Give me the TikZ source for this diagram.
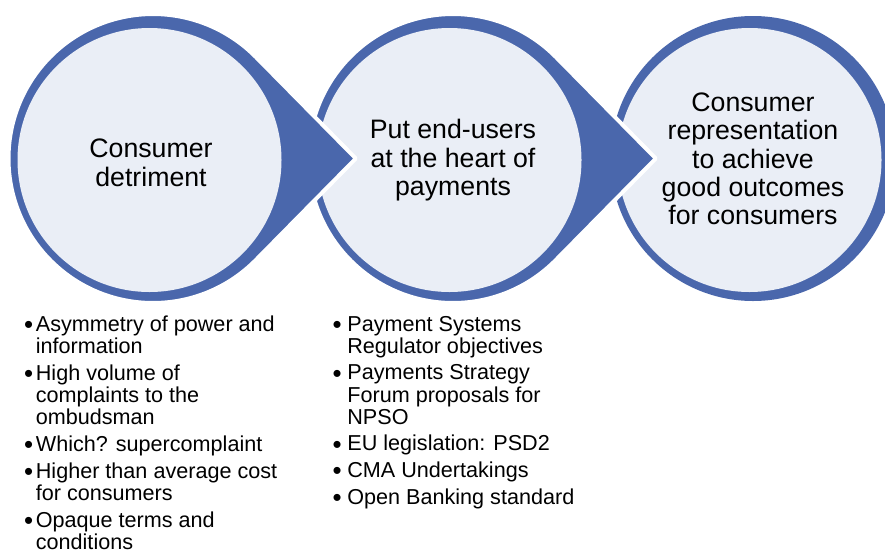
\documentclass[tikz,border=0pt]{standalone}
\usepackage{fontspec}
\setmainfont{Liberation Sans}
\usetikzlibrary{calc}
\definecolor{ringblue}{RGB}{74,103,172}
\definecolor{lightfill}{RGB}{234,238,246}
\newcommand{\bigdot}{\raisebox{-2.2pt}[0pt][0pt]{\scalebox{1.2}{\textbullet}}}
\begin{document}
\begin{tikzpicture}[x=1pt,y=-1pt,
  teardrop/.style={fill=ringblue, draw=white, line width=4pt, line join=round},
  ringdisk/.style={circle, fill=ringblue, minimum size=285pt, inner sep=0pt},
  innerdisk/.style={circle, fill=lightfill, minimum size=264pt, inner sep=0pt},
  title/.style={align=center, font=\fontsize{26.7}{28.3}\selectfont, inner sep=0pt},
  bulletlist/.style={anchor=north west, inner sep=0pt, font=\fontsize{21.6}{22}\selectfont}
]
\useasboundingbox (0,0) rectangle (885,552);
\clip (0,0) rectangle (885,552);

% third circle
\node[ringdisk] (r3) at (753,158.5) {};
\node[innerdisk] (c3) at (749.5,160) {};

% second teardrop
\coordinate (tip2) at (655.8,158.5);
\path[teardrop] (tip2) -- ($(453,158.5)+(44.56:144.5)$) arc[start angle=44.56, end angle=315.44, radius=144.5] -- cycle;
\node[innerdisk] (c2) at (449.5,160) {};

% first teardrop
\coordinate (tip1) at (355.8,158.5);
\path[teardrop] (tip1) -- ($(153,158.5)+(44.56:144.5)$) arc[start angle=44.56, end angle=315.44, radius=144.5] -- cycle;
\node[innerdisk] (c1) at (149.5,160) {};

% titles
\node[title] (t1) at (151,166.3) {\strut Consumer\\detriment\strut};
\node[title] (t2) at (453,161.5) {\strut Put end-users\\at the heart of\\payments\strut};
\node[title] (t3) at (753,162.4) {\strut Consumer\\representation\\to achieve\\good outcomes\\for consumers\strut};

% lists
\node[bulletlist] (l1) at (24,315.5) {\begin{tabular}{@{}l@{\hspace{2.6pt}}l@{}}
\bigdot & Asymmetry of power and\\
 & information\\[4.5pt]
\bigdot & High volume of\\
 & complaints to the\\
 & ombudsman\\[4.5pt]
\bigdot & Which? supercomplaint\\[4.5pt]
\bigdot & Higher than average cost\\
 & for consumers\\[4.5pt]
\bigdot & Opaque terms and\\
 & conditions
\end{tabular}};
\node[bulletlist] (l2) at (332.5,315.5) {\begin{tabular}{@{}l@{\hspace{5.6pt}}l@{}}
\bigdot & Payment Systems\\
 & Regulator objectives\\[4.5pt]
\bigdot & Payments Strategy\\
 & Forum proposals for\\
 & NPSO\\[4.5pt]
\bigdot & EU legislation: PSD2\\[4.5pt]
\bigdot & CMA Undertakings\\[4.5pt]
\bigdot & Open Banking standard
\end{tabular}};
\end{tikzpicture}
\end{document}
